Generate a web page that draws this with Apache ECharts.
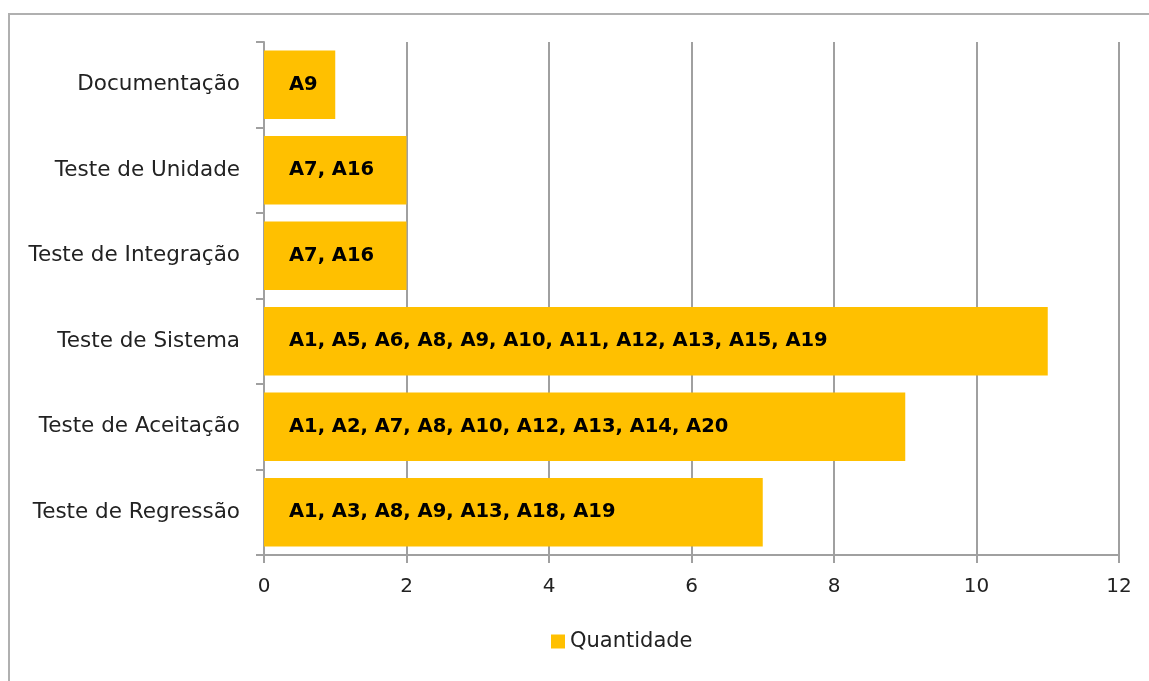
<!DOCTYPE html>
<html>
<head>
<meta charset="utf-8">
<script src="https://cdn.jsdelivr.net/npm/echarts@6/dist/echarts.min.js"></script>
<style>
  html, body { margin: 0; padding: 0; background: #fff; }
  #chart { width: 1149px; height: 681px; }
</style>
</head>
<body>
<div id="chart"></div>
<script>
// categorias de baixo para cima
const categorias = ['Teste de Regressão', 'Teste de Aceitação', 'Teste de Sistema',
  'Teste de Integração', 'Teste de Unidade', 'Documentação'];
const quantidade = [7, 9, 11, 2, 2, 1];
const rotulos = ['A1, A3, A8, A9, A13, A18, A19',
  'A1, A2, A7, A8, A10, A12, A13, A14, A20',
  'A1, A5, A6, A8, A9, A10, A11, A12, A13, A15, A19',
  'A7, A16', 'A7, A16', 'A9'];
const ticksX = [0, 2, 4, 6, 8, 10, 12];

const chart = echarts.init(document.getElementById('chart'));

const fonte = 'DejaVu Sans';
const cinza = '#a0a0a0';

const option = {
  backgroundColor: '#fff',
  animation: false,
  textStyle: { fontFamily: fonte },
  graphic: [{
    type: 'rect',
    shape: { x: 9, y: 14, width: 1160, height: 700 },
    style: { fill: 'none', stroke: '#b0b0b0', lineWidth: 2 },
    silent: true
  }],
  legend: {
    top: 626,
    left: 546,
    itemWidth: 14,
    itemHeight: 14,
    itemGap: 6,
    textStyle: { fontFamily: fonte, fontSize: 21, color: '#222' },
    data: [{ name: 'Quantidade', icon: 'rect' }]
  },
  grid: { left: 264, right: 30, top: 42, bottom: 126, containLabel: false },
  xAxis: {
    type: 'value',
    min: ticksX[0],
    max: ticksX[ticksX.length - 1],
    interval: 2,
    axisLine: { show: true, lineStyle: { color: cinza, width: 2 } },
    axisTick: { show: true, length: 8, lineStyle: { color: cinza, width: 2 } },
    splitLine: { show: true, lineStyle: { color: cinza, width: 2 } },
    axisLabel: { margin: 22, fontFamily: fonte, fontSize: 20, color: '#222' }
  },
  yAxis: {
    type: 'category',
    data: categorias,
    axisLine: { show: true, lineStyle: { color: cinza, width: 2 } },
    axisTick: { show: true, length: 8, lineStyle: { color: cinza, width: 2 } },
    axisLabel: { margin: 24, fontFamily: fonte, fontSize: 21.5, color: '#222' }
  },
  series: [{
    name: 'Quantidade',
    type: 'bar',
    barCategoryGap: '20%',
    itemStyle: { color: '#FFC000' },
    label: {
      show: true,
      position: 'insideLeft',
      distance: 25,
      fontFamily: fonte,
      fontWeight: 'bold',
      fontSize: 19.5,
      color: '#000',
      formatter: p => rotulos[p.dataIndex]
    },
    data: quantidade
  }]
};

chart.setOption(option);
</script>
</body>
</html>
